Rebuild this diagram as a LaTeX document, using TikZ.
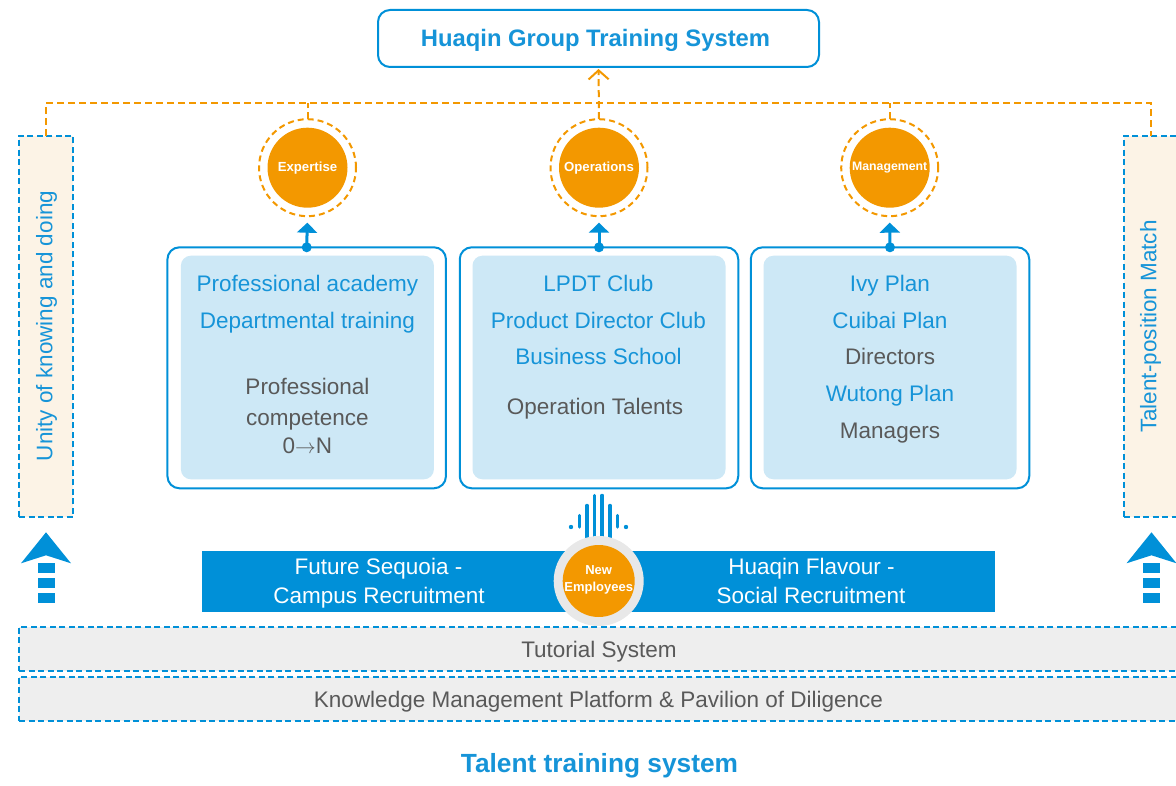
\documentclass[tikz,border=0pt]{standalone}
\usepackage{fontspec}
\setmainfont{Liberation Sans}
\usetikzlibrary{arrows.meta}
\definecolor{hqblue}{RGB}{0,144,216}
\definecolor{hqtext}{RGB}{22,148,216}
\definecolor{hqgray}{RGB}{89,89,89}
\definecolor{hqlight}{RGB}{205,232,246}
\definecolor{hqorange}{RGB}{243,152,0}
\definecolor{hqbeige}{RGB}{252,243,230}
\definecolor{hqbar}{RGB}{238,238,238}
\definecolor{hqring}{RGB}{232,232,232}
\begin{document}
\begin{tikzpicture}[x=1pt,y=-1pt,
  every node/.style={inner sep=0pt, outer sep=0pt},
  txt/.style={anchor=base, font=\fontsize{22.5}{27}\selectfont},
  bl/.style={txt, text=hqtext},
  gr/.style={txt, text=hqgray},
  wt/.style={txt, text=white},
  orline/.style={draw=hqorange, line width=2pt, dash pattern=on 7pt off 4pt},
  ring/.style={circle, draw=hqorange, line width=2pt, dash pattern=on 6pt off 4pt, minimum size=97pt},
  core/.style={circle, fill=hqorange, minimum size=80pt, text=white, font=\bfseries\fontsize{13.2}{15}\selectfont},
  barrow/.style={draw=hqblue, line width=3pt, -{Triangle[length=10pt,width=20pt]}, shorten >=6.5pt},
  outerbox/.style={draw=hqblue, line width=2pt, rounded corners=12pt, fill=white, minimum width=278.5pt, minimum height=241pt},
  innerbox/.style={fill=hqlight, rounded corners=10pt, minimum width=253pt, minimum height=223.6pt},
  sidebox/.style={draw=hqblue, fill=hqbeige, line width=2pt, dash pattern=on 6pt off 3.5pt, minimum width=54pt, minimum height=381.3pt},
  graybar/.style={draw=hqblue, fill=hqbar, line width=2pt, dash pattern=on 6pt off 3.5pt, minimum width=1160pt, minimum height=44.3pt},
  wave/.style={draw=hqblue, line width=3.5pt, line cap=round},
  uparr/.pic={
    \fill[hqblue] (0,-31) -- (25,0) -- (0,-8) -- (-25,0) -- cycle;
    \fill[hqblue] (-8.5,0) rectangle (8.5,10);
    \fill[hqblue] (-8.5,15) rectangle (8.5,25);
    \fill[hqblue] (-8.5,30) rectangle (8.5,40);
  }
]
\useasboundingbox (0,0) rectangle (1176,786);
\clip (0,0) rectangle (1176,786);

% title
\node[draw=hqblue, line width=2pt, rounded corners=12pt, fill=white, minimum width=441pt, minimum height=57pt] (title) at (598.5,38.5) {};
\node[anchor=base, text=hqtext, font=\bfseries\fontsize{23.8}{28}\selectfont] (titletxt) at (595.5,46.4) {Huaqin Group Training System};

% side boxes
\node[sidebox] (lb) at (46,326.3) {};
\node[sidebox] (rb) at (1151,326.3) {};
\node[rotate=90, text=hqtext, font=\fontsize{22.5}{27}\selectfont] (lbt) at (46.5,326) {Unity of knowing and doing};
\node[rotate=90, text=hqtext, font=\fontsize{22.5}{27}\selectfont] (rbt) at (1150.5,326.5) {Talent-position Match};

% orange frame line
\coordinate (hl) at (0,103);
\draw[orline] (lb.north) -- (lb.north |- hl) -- (rb.north |- hl) -- (rb.north);

% circles
\node[ring] (r1) at (307.5,167.7) {};
\node[core] (c1) at (307.5,167.7) {Expertise};
\node[ring] (r2) at (599,167.7) {};
\node[core] (c2) at (599,167.7) {Operations};
\node[ring] (r3) at (889.7,167.7) {};
\node[core, font=\bfseries\fontsize{12.3}{14}\selectfont] (c3) at (889.7,167.7) {Management};

\draw[orline] (r1.north) -- (r1.north |- hl);
\draw[orline] (r3.north) -- (r3.north |- hl);
\draw[orline, -{Straight Barb[length=9pt,width=20pt,line width=2pt]}, shorten >=2pt] (r2.north) -- (title.south);

% boxes
\node[outerbox] (b1) at (306.7,367.8) {};
\node[innerbox] (i1) at (307.4,367.5) {};
\node[outerbox] (b2) at (599,367.8) {};
\node[innerbox] (i2) at (599,367.5) {};
\node[outerbox] (b3) at (890,367.8) {};
\node[innerbox] (i3) at (890,367.5) {};

\draw[barrow] (b1.north) -- (r1.south);
\draw[barrow] (b2.north) -- (r2.south);
\draw[barrow] (b3.north) -- (r3.south);
\fill[hqblue] (b1.north) circle (5pt);
\fill[hqblue] (b2.north) circle (5pt);
\fill[hqblue] (b3.north) circle (5pt);

% box 1 text
\node[bl] (t11) at (307.4,291.7) {Professional academy};
\node[bl] (t12) at (307.4,328.3) {Departmental training};
\node[gr] (t13) at (307.4,395) {Professional};
\node[gr] (t14) at (307.4,425) {competence};
\node[gr] (t15) at (307.4,453.3) {0$\rightarrow$N};
% box 2 text
\node[bl] (t21) at (598.5,291.7) {LPDT Club};
\node[bl] (t22) at (598.5,328.3) {Product Director Club};
\node[bl] (t23) at (598.5,365) {Business School};
\node[gr] (t24) at (595,414.5) {Operation Talents};
% box 3 text
\node[bl] (t31) at (890,291.7) {Ivy Plan};
\node[bl] (t32) at (890,328.3) {Cuibai Plan};
\node[gr] (t33) at (890,365) {Directors};
\node[bl] (t34) at (890,401.7) {Wutong Plan};
\node[gr] (t35) at (890,438.3) {Managers};

% side arrows
\pic at (46,563.3) {uparr};
\pic at (1151.5,563.3) {uparr};

% banner
\node[fill=hqblue, minimum width=793.3pt, minimum height=60.7pt] (banner) at (598.4,581.4) {};
\node[wt] (f1) at (378.5,574.5) {Future Sequoia -};
\node[wt] (f2) at (379,603.5) {Campus Recruitment};
\node[wt] (h1) at (811.5,574.5) {Huaqin Flavour -};
\node[wt] (h2) at (811,603.5) {Social Recruitment};

% sound wave
\fill[hqblue] (571,527) circle (2.2pt);
\fill[hqblue] (626,527) circle (2.2pt);
\draw[wave] (579.5,515.5) -- (579.5,527);
\draw[wave] (617.5,515.5) -- (617.5,527);
\draw[wave] (587,505.5) -- (587,545);
\draw[wave] (610,505.5) -- (610,545);
\draw[wave] (594.6,495.5) -- (594.6,545);
\draw[wave] (602.2,495.5) -- (602.2,545);

% new employees
\node[circle, fill=hqring, minimum size=90pt] (neo) at (598.7,581) {};
\node[circle, fill=hqorange, minimum size=72pt] (ne) at (598.7,581) {};
\node[anchor=base, text=white, font=\bfseries\fontsize{13}{15}\selectfont] (ne1) at (598.7,574.3) {New};
\node[anchor=base, text=white, font=\bfseries\fontsize{13}{15}\selectfont] (ne2) at (598.7,591.7) {Employees};

% bottom bars
\node[graybar] (tut) at (599,648.85) {};
\node[graybar] (km) at (599,698.85) {};
\node[gr] (tutt) at (599,657) {Tutorial System};
\node[gr] (kmt) at (598.5,707) {Knowledge Management Platform \& Pavilion of Diligence};

% caption
\node[anchor=base, text=hqtext, font=\bfseries\fontsize{26.3}{31}\selectfont] (cap) at (599.5,772.4) {Talent training system};
\end{tikzpicture}
\end{document}
